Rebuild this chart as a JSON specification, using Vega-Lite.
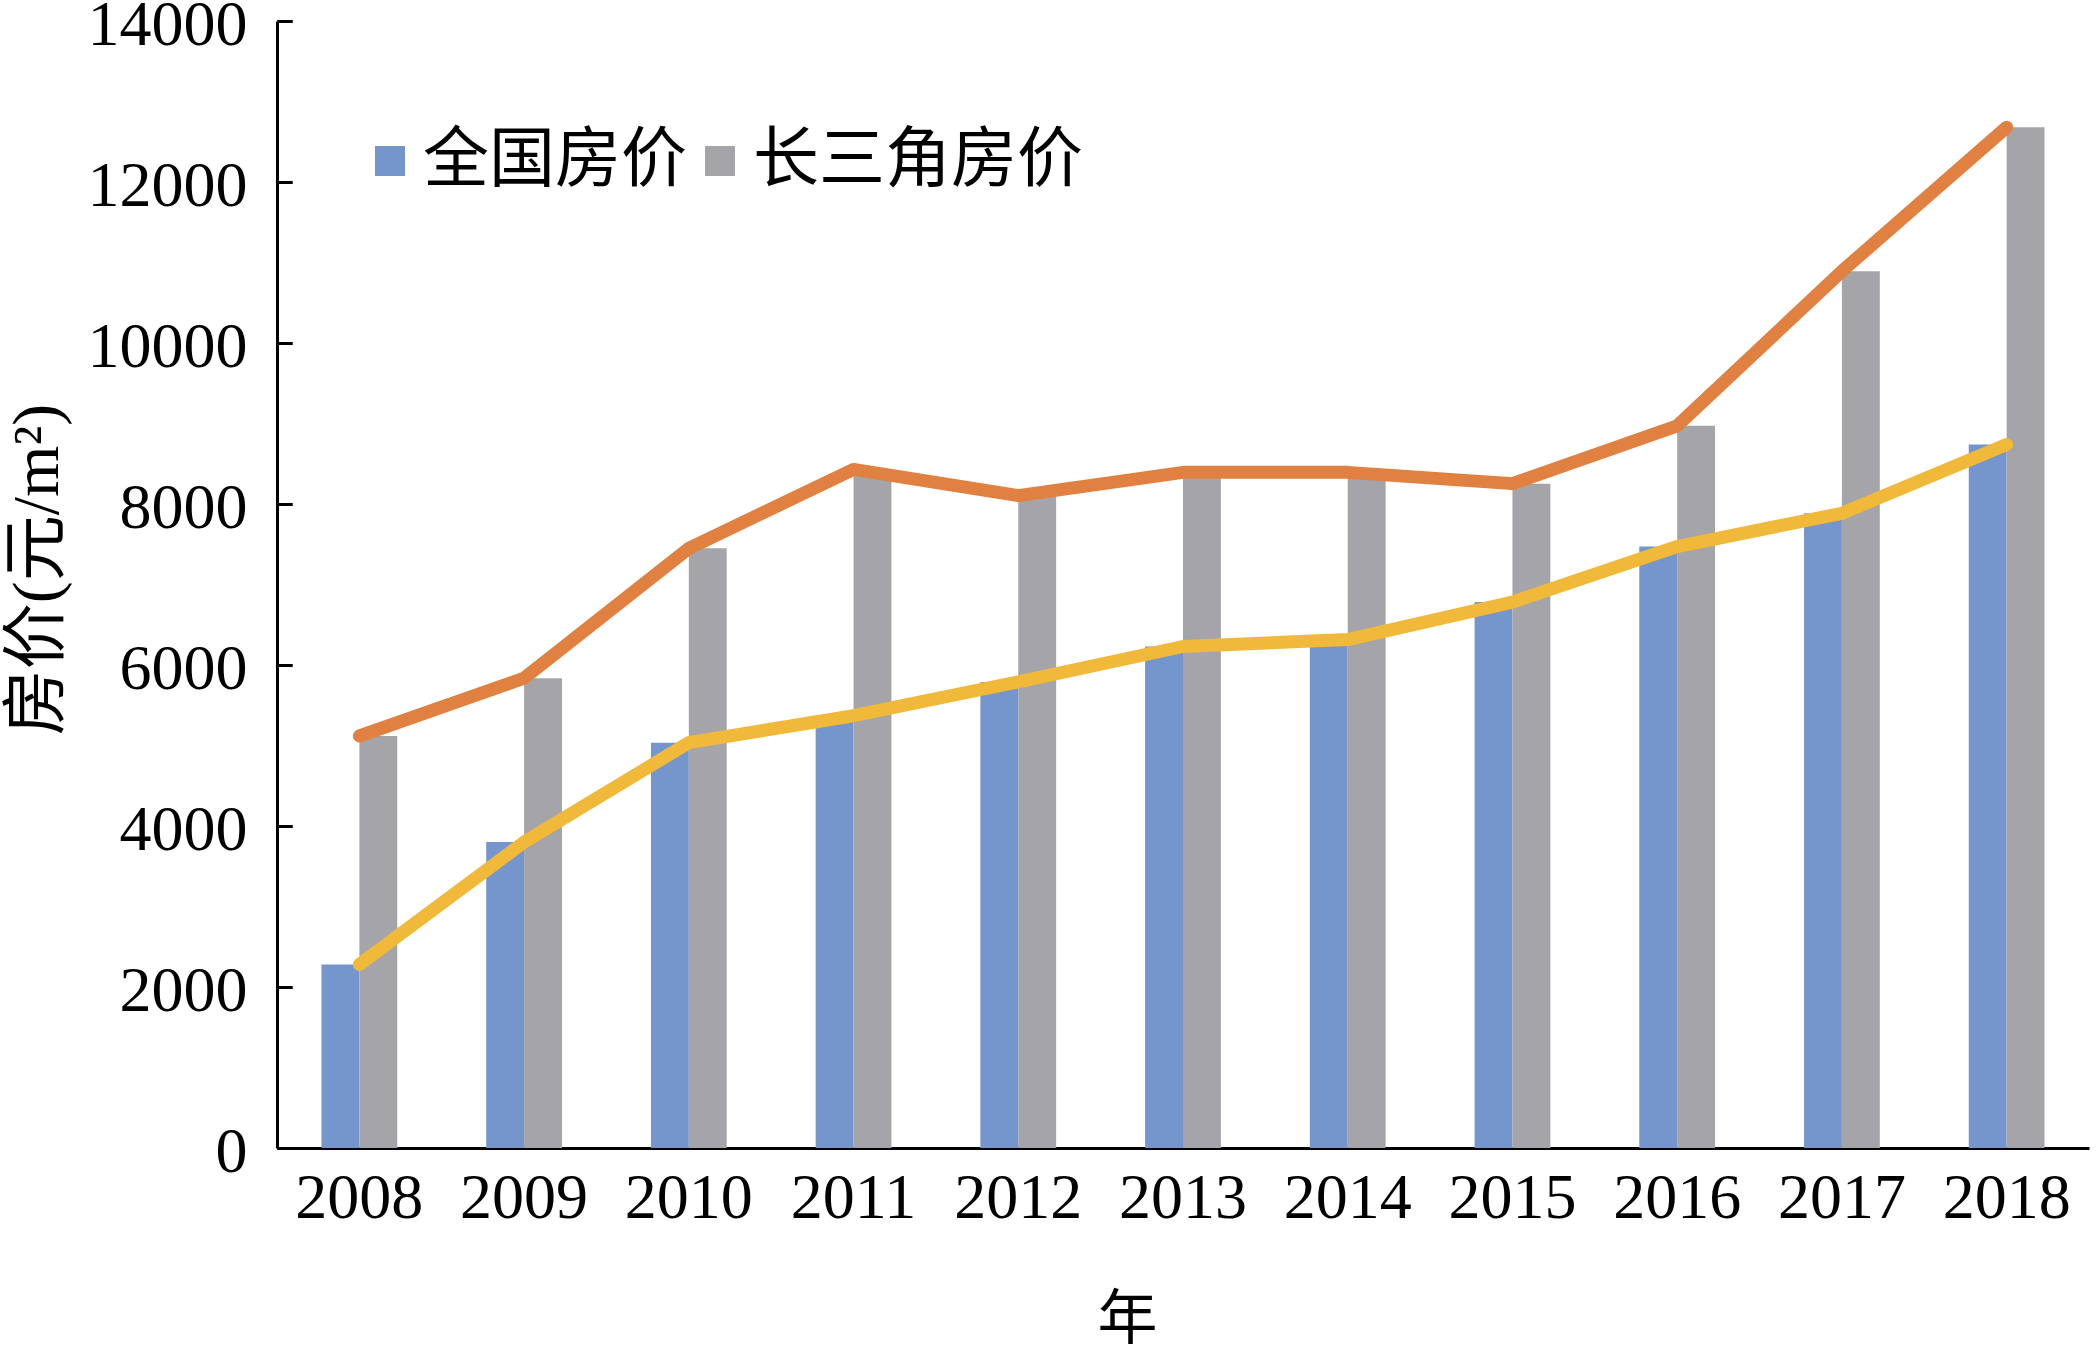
{
  "$schema": "https://vega.github.io/schema/vega-lite/v6.json",
  "width": 1812,
  "height": 1127,
  "autosize": "none",
  "padding": {"left": 277, "top": 21, "right": 8, "bottom": 203},
  "background": "white",
  "config": {
    "view": {"stroke": null},
    "font": "Liberation Serif"
  },
  "data": {
    "values": [
      {"year": "2008", "series": "全国房价", "price": 2280},
      {"year": "2009", "series": "全国房价", "price": 3800},
      {"year": "2010", "series": "全国房价", "price": 5035},
      {"year": "2011", "series": "全国房价", "price": 5370},
      {"year": "2012", "series": "全国房价", "price": 5790},
      {"year": "2013", "series": "全国房价", "price": 6230},
      {"year": "2014", "series": "全国房价", "price": 6316},
      {"year": "2015", "series": "全国房价", "price": 6782},
      {"year": "2016", "series": "全国房价", "price": 7472},
      {"year": "2017", "series": "全国房价", "price": 7885},
      {"year": "2018", "series": "全国房价", "price": 8740},
      {"year": "2008", "series": "长三角房价", "price": 5118},
      {"year": "2009", "series": "长三角房价", "price": 5836},
      {"year": "2010", "series": "长三角房价", "price": 7450},
      {"year": "2011", "series": "长三角房价", "price": 8430},
      {"year": "2012", "series": "长三角房价", "price": 8104},
      {"year": "2013", "series": "长三角房价", "price": 8393},
      {"year": "2014", "series": "长三角房价", "price": 8393},
      {"year": "2015", "series": "长三角房价", "price": 8253},
      {"year": "2016", "series": "长三角房价", "price": 8971},
      {"year": "2017", "series": "长三角房价", "price": 10892},
      {"year": "2018", "series": "长三角房价", "price": 12680}
    ]
  },
  "encoding": {
    "x": {
      "field": "year",
      "type": "nominal",
      "scale": {"paddingInner": 0.54, "paddingOuter": 0.27},
      "axis": {
        "title": "年",
        "titleFont": "Liberation Serif, Noto Sans CJK SC",
        "titleFontSize": 60,
        "titleFontWeight": "normal",
        "titleColor": "black",
        "titleX": 850,
        "titleY": 172,
        "titleBaseline": "middle",
        "labelAngle": 0,
        "labelFontSize": 64,
        "labelColor": "black",
        "labelPadding": 18,
        "ticks": false,
        "grid": false,
        "domainColor": "black",
        "domainWidth": 3
      }
    }
  },
  "layer": [
    {
      "mark": {"type": "bar"},
      "encoding": {
        "y": {
          "field": "price",
          "type": "quantitative",
          "scale": {"domain": [0, 14000]},
          "axis": {
            "title": "房价(元/m²)",
            "titleFont": "Liberation Serif, Noto Sans CJK SC",
            "titleFontSize": 66,
            "titleFontWeight": "normal",
            "titleColor": "black",
            "titleY": 548,
            "titleX": -240,
            "titleBaseline": "middle",
            "values": [0, 2000, 4000, 6000, 8000, 10000, 12000, 14000],
            "format": "d",
            "labelFontSize": 64,
            "labelColor": "black",
            "labelPadding": 30,
            "labelOffset": 4,
            "ticks": false,
            "grid": false,
            "domainColor": "black",
            "domainWidth": 3
          }
        },
        "xOffset": {
          "field": "series",
          "type": "nominal",
          "scale": {"domain": ["全国房价", "长三角房价"], "paddingInner": 0, "paddingOuter": 0}
        },
        "color": {
          "field": "series",
          "type": "nominal",
          "scale": {"domain": ["全国房价", "长三角房价"], "range": ["#7595CD", "#A5A4A8"]},
          "legend": {
            "title": null,
            "orient": "none",
            "direction": "horizontal",
            "legendX": 80,
            "legendY": 107,
            "symbolType": "square",
            "symbolSize": 900,
            "symbolStrokeWidth": 0,
            "symbolOpacity": 1,
            "labelFont": "Noto Sans CJK SC",
            "labelFontSize": 66,
            "labelColor": "black",
            "labelOffset": 0,
            "labelLimit": 600,
            "columnPadding": -14
          }
        }
      }
    },
    {
      "transform": [{"filter": "datum.series === '长三角房价'"}],
      "mark": {"type": "line", "strokeWidth": 13, "strokeCap": "round", "strokeJoin": "round", "color": "#E08142"},
      "encoding": {
        "y": {
          "field": "price",
          "type": "quantitative",
          "axis": {
            "orient": "left",
            "offset": -15,
            "title": null,
            "labels": false,
            "domain": false,
            "grid": false,
            "ticks": true,
            "values": [0, 2000, 4000, 6000, 8000, 10000, 12000, 14000],
            "tickSize": 15,
            "tickWidth": 3,
            "tickColor": "black",
            "tickOpacity": 1
          }
        }
      }
    },
    {
      "transform": [{"filter": "datum.series === '全国房价'"}],
      "mark": {"type": "line", "strokeWidth": 13, "strokeCap": "round", "strokeJoin": "round", "color": "#F0B93A"},
      "encoding": {
        "y": {
          "field": "price",
          "type": "quantitative",
          "axis": {
            "orient": "left",
            "offset": -15,
            "title": null,
            "labels": false,
            "domain": false,
            "grid": false,
            "ticks": true,
            "values": [0, 2000, 4000, 6000, 8000, 10000, 12000, 14000],
            "tickSize": 15,
            "tickWidth": 3,
            "tickColor": "black",
            "tickOpacity": 1
          }
        }
      }
    }
  ],
  "resolve": {"axis": {"y": "independent"}}
}
